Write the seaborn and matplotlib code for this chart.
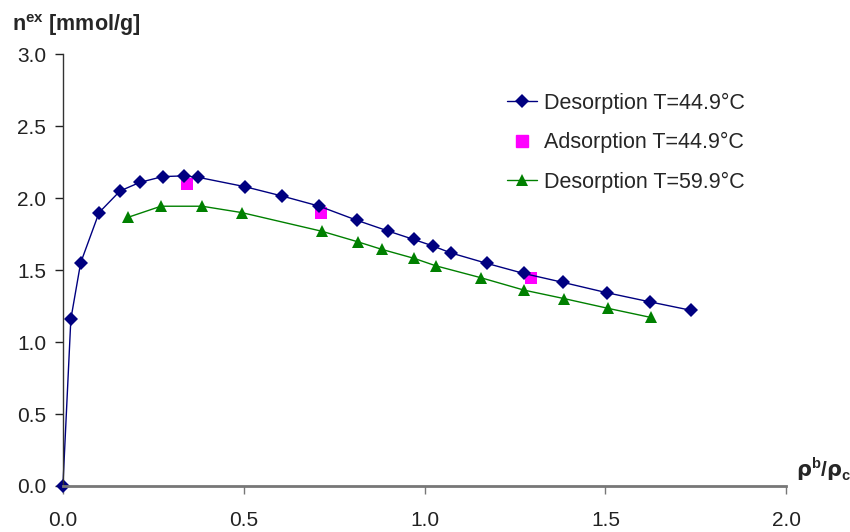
import matplotlib
matplotlib.use('Agg')
import matplotlib.pyplot as plt
import seaborn as sns
import pandas as pd

# Desorption T=44.9 C
des45_x = [0.0, 0.022, 0.049, 0.100, 0.158, 0.213, 0.276, 0.336, 0.374, 0.503, 0.606, 0.708,
           0.812, 0.900, 0.970, 1.022, 1.072, 1.172, 1.274, 1.384, 1.504, 1.622, 1.738]
des45_y = [0.0, 1.16, 1.55, 1.90, 2.05, 2.11, 2.15, 2.155, 2.145, 2.08, 2.015, 1.945,
           1.847, 1.771, 1.713, 1.669, 1.620, 1.547, 1.477, 1.414, 1.343, 1.280, 1.220]

# Adsorption T=44.9 C
ads45_x = [0.342, 0.713, 1.294]
ads45_y = [2.097, 1.90, 1.444]

# Desorption T=59.9 C
des60_x = [0.179, 0.271, 0.385, 0.494, 0.716, 0.815, 0.882, 0.972, 1.031, 1.156, 1.275, 1.386, 1.508, 1.626]
des60_y = [1.866, 1.944, 1.944, 1.90, 1.77, 1.697, 1.644, 1.581, 1.530, 1.447, 1.361, 1.302, 1.234, 1.171]

sns.set_style("white")
plt.rcParams['font.family'] = ['Liberation Sans', 'DejaVu Sans']

fig = plt.figure(figsize=(8.5, 5.32), dpi=100)
ax = fig.add_axes([0.074, 0.0865, 0.851, 0.8115])

sns.lineplot(x=des45_x, y=des45_y, sort=False, color='#000080', linewidth=1,
             marker='D', markersize=7, markeredgewidth=0, label='Desorption T=44.9°C', ax=ax)
ax.plot([], [], ls='none', marker='s', color='#FF00FF', markersize=8, label='Adsorption T=44.9°C')
sns.scatterplot(x=ads45_x, y=ads45_y, color='#FF00FF', marker='s', s=70, linewidth=0, ax=ax)
sns.lineplot(x=des60_x, y=des60_y, sort=False, color='#008000', linewidth=1,
             marker='^', markersize=9, markeredgewidth=0, label='Desorption T=59.9°C', ax=ax)
for line in ax.lines:
    line.set_clip_on(False)

ax.set_xlim(0, 2.0)
ax.set_ylim(0, 3.0)
ax.set_xticks([0.0, 0.5, 1.0, 1.5, 2.0])
ax.set_yticks([0.0, 0.5, 1.0, 1.5, 2.0, 2.5, 3.0])
ax.set_xticklabels(['0.0', '0.5', '1.0', '1.5', '2.0'])
ax.set_yticklabels(['0.0', '0.5', '1.0', '1.5', '2.0', '2.5', '3.0'])
ax.tick_params(axis='both', direction='out', length=6, width=1, labelsize=15,
               colors='#222222', bottom=True, left=True)
ax.tick_params(axis='x', color='#777777', pad=12)
ax.tick_params(axis='y', pad=6)
for s in ['top', 'right']:
    ax.spines[s].set_visible(False)
ax.spines['bottom'].set_color('#777777')
ax.spines['bottom'].set_linewidth(2)
ax.spines['left'].set_color('#333333')
ax.spines['left'].set_linewidth(1)
ax.set_xlabel('')
ax.set_ylabel('')

fig.text(0.014, 0.952, r'n$^{\mathregular{ex}}$ [mmol/g]', fontsize=15.5, fontweight='bold',
         ha='left', va='center')
fig.text(0.936, 0.118, r'$\mathbf{\rho}^{\mathregular{b}}$/$\mathbf{\rho}_{\mathregular{c}}$',
         fontsize=15, fontweight='bold', ha='left', va='center')

ax.legend(loc='upper left', bbox_to_anchor=(0.5965, 0.826), bbox_transform=fig.transFigure,
          frameon=False, fontsize=15.5, labelspacing=0.85, handlelength=1.4, handletextpad=0.3,
          borderaxespad=0, borderpad=0)

fig.savefig('out.png', dpi=100)
